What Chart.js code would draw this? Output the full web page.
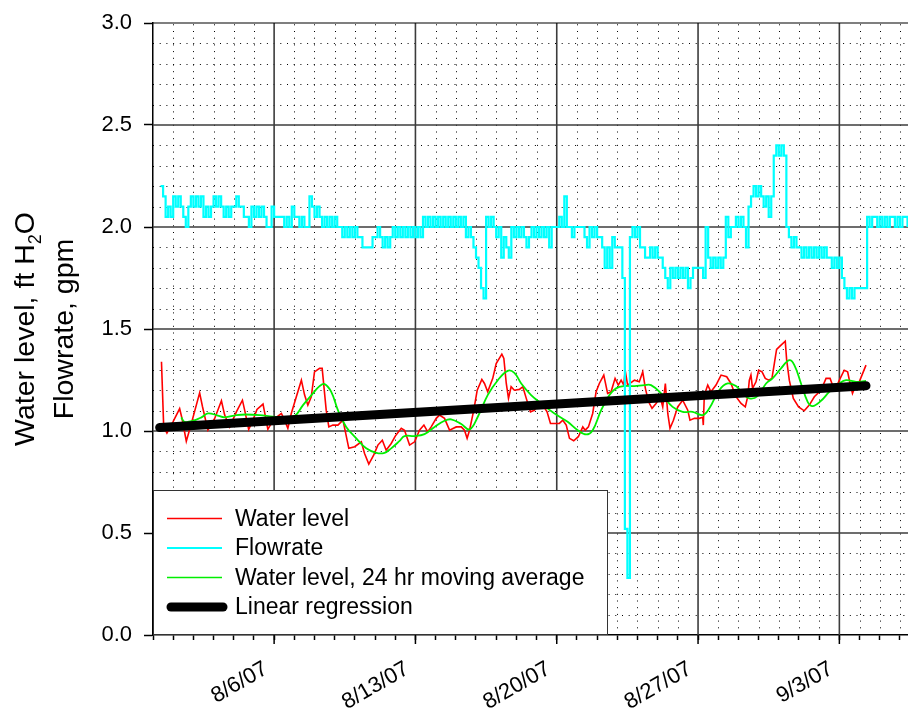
<!DOCTYPE html>
<html>
<head>
<meta charset="utf-8">
<script src="https://cdn.jsdelivr.net/npm/chart.js@4.4.0/dist/chart.umd.min.js"></script>
<style>
html,body{margin:0;padding:0;background:#fff;}
#wrap{width:908px;height:711px;position:relative;}
</style>
</head>
<body>
<div id="wrap"><canvas id="c" width="908" height="711"></canvas></div>
<script>
// x values are days since 7/31/07 00:00
const tickDays   = [6, 13, 20, 27, 34];
const tickLabels = ['8/6/07', '8/13/07', '8/20/07', '8/27/07', '9/3/07'];

const waterDays = [0.42,0.53,0.69,0.99,1.32,1.44,1.65,1.90,2.31,2.45,2.72,3.05,3.39,3.55,3.80,4.13,4.43,4.54,4.74,4.95,
  5.15,5.45,5.69,5.86,6.19,6.36,6.52,6.68,6.85,7.10,7.35,7.51,7.67,7.84,8.00,8.25,8.38,8.58,8.71,8.91,
  9.16,9.41,9.70,9.99,10.32,10.48,10.69,10.93,11.14,11.36,11.55,11.80,12.00,12.30,12.46,12.71,12.96,13.20,13.42,13.61,
  13.78,14.03,14.19,14.44,14.69,15.02,15.27,15.43,15.56,15.68,15.89,16.06,16.29,16.42,16.58,16.83,17.00,17.28,17.38,17.50,
  17.61,17.74,17.90,18.15,18.32,18.49,18.70,18.90,19.09,19.31,19.52,19.69,19.89,20.13,20.30,20.47,20.63,20.84,21.07,21.29,
  21.41,21.57,21.78,21.95,22.11,22.33,22.52,22.69,22.89,23.05,23.19,23.32,23.39,23.51,23.85,24.09,24.26,24.39,24.55,24.72,
  24.92,25.12,25.25,25.38,25.50,25.61,25.78,25.99,26.24,26.49,26.60,26.82,27.06,27.23,27.26,27.31,27.48,27.64,27.89,28.14,
  28.42,28.63,28.88,29.13,29.34,29.46,29.54,29.62,29.70,29.87,30.00,30.17,30.33,30.50,30.66,30.78,30.89,31.11,31.32,31.39,
  31.52,31.72,31.98,32.26,32.51,32.76,33.09,33.34,33.54,33.66,33.83,34.00,34.24,34.41,34.53,34.65,34.78,34.95,35.12,35.32];
const waterLevel = [1.339,1.02,0.99,1.045,1.11,1.06,0.95,1.037,1.187,1.12,1.004,1.06,1.148,1.078,1.02,1.094,1.151,1.102,1.008,1.053,
  1.106,1.132,1.008,1.037,1.073,1.086,1.053,1.013,1.086,1.168,1.249,1.176,1.127,1.168,1.29,1.307,1.307,1.102,1.02,1.029,
  1.029,1.053,0.915,0.923,0.947,0.89,0.838,0.882,0.931,0.955,0.906,0.939,0.975,1.013,1.004,0.931,0.947,1.004,1.029,0.996,
  1.02,1.062,1.078,1.062,1.004,1.02,1.02,1.004,0.964,1.004,1.102,1.2,1.253,1.233,1.192,1.258,1.331,1.377,1.356,1.233,
  1.16,1.217,1.2,1.204,1.217,1.16,1.094,1.102,1.143,1.127,1.094,1.037,1.037,1.037,1.053,1.029,0.964,0.952,0.972,1.02,
  1.004,1.02,1.086,1.192,1.233,1.274,1.184,1.192,1.258,1.225,1.249,1.225,1.298,1.225,1.249,1.241,1.29,1.209,1.143,1.111,
  1.135,1.168,1.118,1.233,1.086,1.013,1.053,1.118,1.151,1.102,1.053,1.062,1.062,1.067,1.029,1.176,1.225,1.192,1.225,1.274,
  1.266,1.233,1.168,1.135,1.118,1.168,1.249,1.274,1.209,1.241,1.298,1.29,1.258,1.249,1.258,1.331,1.40,1.421,1.44,1.347,
  1.249,1.16,1.118,1.099,1.127,1.168,1.2,1.258,1.258,1.225,1.209,1.249,1.298,1.29,1.233,1.184,1.217,1.233,1.274,1.323];

const avgDays = [1.40,1.57,1.98,2.40,2.72,3.14,3.55,4.13,4.62,5.28,5.94,6.44,7.01,7.43,7.92,8.25,8.50,8.83,9.16,9.57,
  10.07,10.56,11.06,11.47,11.80,12.20,12.46,12.96,13.45,13.95,14.44,14.77,15.27,15.68,16.09,16.58,17.08,17.57,17.90,18.24,
  18.73,19.23,19.89,20.54,21.04,21.46,21.78,22.20,22.61,22.94,23.35,23.85,24.34,24.67,25.17,25.74,26.24,26.73,27.23,27.56,
  28.05,28.47,28.88,29.21,29.54,29.95,30.37,30.69,31.11,31.52,31.77,32.10,32.43,32.67,33.09,33.50,34.00,34.33,34.83,35.32];
const avgLevel = [1.067,1.045,1.05,1.067,1.086,1.078,1.067,1.078,1.081,1.078,1.07,1.067,1.073,1.127,1.184,1.22,1.23,1.192,1.102,1.02,
  0.964,0.915,0.893,0.893,0.915,0.95,0.975,0.975,0.985,1.02,1.05,1.057,1.034,1.008,1.07,1.176,1.249,1.295,1.285,1.233,
  1.176,1.135,1.086,1.045,1.004,0.983,1.004,1.102,1.176,1.209,1.22,1.22,1.225,1.225,1.184,1.118,1.094,1.094,1.078,1.111,
  1.2,1.233,1.22,1.184,1.16,1.171,1.233,1.258,1.307,1.347,1.323,1.233,1.143,1.122,1.148,1.192,1.233,1.249,1.241,1.246];

const regDays  = [0.33, 35.32];
const regLevel = [1.017, 1.222];

// flowrate, sampled every 3 h (0.125 day) starting at day 0.375
const flowStart = 0.375;
const flowStep  = 0.125;
const flowRate = [
  2.2,2.15,2.05,2.1,2.05,
  2.15,2.1,2.15,2.1,2.05,2.0,2.1,2.15,
  2.1,2.15,2.1,2.15,2.05,2.1,2.05,2.1,
  2.15,2.1,2.15,2.1,2.05,2.1,2.05,2.1,
  2.1,2.15,2.1,2.1,2.05,2.05,2.0,2.1,
  2.05,2.1,2.05,2.1,2.05,2.0,2.0,2.1,
  2.05,2.05,2.05,2.05,2.0,2.05,2.0,2.1,
  2.05,2.05,2.0,2.05,2.0,2.0,2.15,2.1,
  2.05,2.1,2.05,2.0,2.05,2.0,2.05,2.0,
  2.05,2.0,2.0,1.95,2.0,1.95,2.0,1.95,
  2.0,1.95,1.95,1.9,1.9,1.9,1.9,1.95,
  1.95,2.0,1.95,1.9,1.95,1.9,1.95,2.0,
  1.95,2.0,1.95,2.0,1.95,2.0,1.95,2.0,
  1.95,2.0,1.95,2.05,2.0,2.05,2.0,2.05,
  2.0,2.05,2.0,2.05,2.0,2.05,2.0,2.05,
  2.0,2.05,2.0,2.05,1.95,2.0,1.95,1.9,
  1.85,1.8,1.7,1.65,2.05,2.0,2.05,2.0,
  1.95,2.0,1.85,1.95,1.9,1.85,2.0,1.95,
  2.0,1.95,2.0,1.95,1.9,1.95,2.0,1.95,
  2.0,1.95,2.0,1.95,2.0,1.9,2.0,2.0,
  2.0,2.05,2.0,2.15,2.0,2.0,1.95,2.0,
  2.0,2.0,2.0,1.95,1.9,2.0,1.95,2.0,
  1.95,1.95,1.9,1.8,1.9,1.8,1.95,1.9,
  1.9,1.9,1.75,0.52,0.28,1.95,2.0,1.95,
  2.0,1.9,1.9,1.85,1.85,1.9,1.85,1.9,
  1.85,1.85,1.8,1.75,1.7,1.8,1.75,1.8,
  1.75,1.8,1.75,1.8,1.7,1.75,1.8,1.8,
  1.8,1.8,1.75,2.0,1.85,1.8,1.85,1.8,
  1.85,1.8,1.85,2.05,1.95,2.0,2.0,2.05,
  2.0,2.05,2.0,1.9,2.1,2.15,2.2,2.15,
  2.2,2.15,2.1,2.15,2.05,2.15,2.35,2.4,
  2.35,2.4,2.35,2.0,1.95,1.9,1.95,1.9,
  1.9,1.85,1.9,1.85,1.9,1.85,1.9,1.85,
  1.9,1.85,1.9,1.85,1.85,1.8,1.85,1.8,
  1.85,1.75,1.7,1.65,1.7,1.65,1.7,1.7,
  1.7,1.7,1.7,2.05,2.0,2.05,2.05,2.0,
  2.05,2.0,2.05,2.0,2.05,2.05,2.0,2.05,
  2.0,2.05,2.05,2.0];

const FONT = "'Liberation Sans', Arial, Helvetica, sans-serif";

function pairs(xs, ys) { return xs.map((x, i) => ({x: x, y: ys[i]})); }
const flowPoints = flowRate.map((v, i) => ({x: flowStart + i * flowStep, y: v}));

const gridPlugin = {
  id: 'customGrid',
  beforeDatasetsDraw(chart) {
    const {ctx, chartArea: a, scales: {x, y}} = chart;
    ctx.save();
    ctx.beginPath();
    ctx.rect(a.left, a.top, a.right - a.left, a.bottom - a.top);
    ctx.clip();
    ctx.strokeStyle = '#000';
    ctx.lineWidth = 1;
    ctx.setLineDash([1, 5.7]);
    for (let d = Math.ceil(x.min) + 1; d <= x.max; d++) {
      if (tickDays.includes(d)) continue;
      const px = Math.round(x.getPixelForValue(d)) + 0.5;
      ctx.beginPath(); ctx.moveTo(px, a.bottom); ctx.lineTo(px, a.top); ctx.stroke();
    }
    for (let k = 1; k < 30; k++) {
      if (k % 5 === 0) continue;
      const py = Math.round(y.getPixelForValue(k / 10)) + 0.5;
      ctx.beginPath(); ctx.moveTo(a.left, py); ctx.lineTo(a.right, py); ctx.stroke();
    }
    ctx.setLineDash([]);
    ctx.strokeStyle = '#3c3c3c';
    ctx.lineWidth = 1.6;
    tickDays.forEach(d => {
      const px = x.getPixelForValue(d);
      ctx.beginPath(); ctx.moveTo(px, a.bottom); ctx.lineTo(px, a.top); ctx.stroke();
    });
    for (let k = 1; k < 6; k++) {
      const py = y.getPixelForValue(k / 2);
      ctx.beginPath(); ctx.moveTo(a.left, py); ctx.lineTo(a.right, py); ctx.stroke();
    }
    ctx.restore();
    ctx.save();
    ctx.strokeStyle = '#000';
    ctx.lineWidth = 1.2;
    ctx.beginPath(); ctx.moveTo(a.left, a.top); ctx.lineTo(a.right, a.top); ctx.stroke();
    ctx.restore();
  }
};

const legendPlugin = {
  id: 'boxLegend',
  afterDatasetsDraw(chart) {
    const {ctx, chartArea: a} = chart;
    const bx = a.left, bw = 455, bh = 145, by = a.bottom - bh;
    ctx.save();
    ctx.fillStyle = '#fff';
    ctx.fillRect(bx, by, bw, bh);
    ctx.strokeStyle = '#333';
    ctx.lineWidth = 1;
    ctx.strokeRect(bx + 0.5, by + 0.5, bw - 1, bh - 1);
    ctx.font = '23px ' + FONT;
    ctx.textBaseline = 'middle';
    ctx.textAlign = 'left';
    chart.data.datasets.forEach((ds, i) => {
      const yy = by + 28.5 + i * 29.5;
      ctx.strokeStyle = ds.borderColor;
      ctx.lineWidth = ds.legendWidth;
      ctx.lineCap = ds.borderCapStyle || 'butt';
      const x0 = ds.borderCapStyle === 'round' ? bx + 18 : bx + 14;
      const x1 = ds.borderCapStyle === 'round' ? bx + 70 : bx + 69;
      ctx.beginPath(); ctx.moveTo(x0, yy); ctx.lineTo(x1, yy); ctx.stroke();
      ctx.fillStyle = '#000';
      ctx.fillText(ds.label, bx + 82, yy + 1);
    });
    ctx.restore();
  }
};

const decoPlugin = {
  id: 'deco',
  afterDraw(chart) {
    const {ctx, chartArea: a, scales: {x}} = chart;
    ctx.save();
    ctx.strokeStyle = '#000';
    ctx.lineWidth = 1.5;
    tickDays.forEach(d => {
      const px = x.getPixelForValue(d);
      ctx.beginPath(); ctx.moveTo(px, a.bottom); ctx.lineTo(px, a.bottom + 9); ctx.stroke();
    });
    const cy = (a.top + a.bottom) / 2;
    ctx.fillStyle = '#000';
    ctx.textBaseline = 'alphabetic';
    const big = '28.5px ' + FONT, small = '18px ' + FONT;
    ctx.font = big;
    const p1 = 'Water level, ft H', p3 = 'O';
    const w1 = ctx.measureText(p1).width, w3 = ctx.measureText(p3).width;
    ctx.font = small;
    const w2 = ctx.measureText('2').width;
    const total = w1 + w2 + w3;
    ctx.translate(34, cy);
    ctx.rotate(-Math.PI / 2);
    let sx = -total / 2;
    ctx.font = big; ctx.fillText(p1, sx, 0); sx += w1;
    ctx.font = small; ctx.fillText('2', sx, 7); sx += w2;
    ctx.font = big; ctx.fillText(p3, sx, 0);
    ctx.textAlign = 'center';
    ctx.fillText('Flowrate, gpm', 0, 39);
    ctx.restore();
  }
};

new Chart(document.getElementById('c'), {
  type: 'line',
  data: {
    datasets: [
      {label: 'Water level', data: pairs(waterDays, waterLevel), borderColor: '#ff0000', borderWidth: 1.6,
       legendWidth: 1.6, pointRadius: 0, tension: 0, order: 3},
      {label: 'Flowrate', data: flowPoints, borderColor: '#00ffff', borderWidth: 2.2, legendWidth: 1.8,
       pointRadius: 0, stepped: true, order: 1},
      {label: 'Water level, 24 hr moving average', data: pairs(avgDays, avgLevel), borderColor: '#00ee00',
       borderWidth: 1.8, legendWidth: 1.6, pointRadius: 0, tension: 0.4, order: 2},
      {label: 'Linear regression', data: pairs(regDays, regLevel), borderColor: '#000000', borderWidth: 9,
       legendWidth: 9, borderCapStyle: 'round', pointRadius: 0, order: 0}
    ]
  },
  options: {
    responsive: false,
    animation: false,
    events: [],
    layout: {padding: {top: 23, right: 0, left: 0, bottom: 0}},
    plugins: {legend: {display: false}, tooltip: {enabled: false}},
    scales: {
      x: {
        type: 'linear', min: 0, max: 37.4,
        afterFit: s => { s.height = 76; s.paddingRight = 0; s.paddingLeft = 0; },
        grid: {display: true, drawOnChartArea: false, drawTicks: true, tickLength: 5, tickColor: '#000', tickWidth: 1.5},
        border: {display: true, color: '#000', width: 1.5},
        ticks: {
          stepSize: 1, autoSkip: false, includeBounds: false, maxRotation: 30, minRotation: 30,
          labelOffset: -8, padding: 16, color: '#000', font: {family: FONT, size: 22},
          callback: v => { const i = tickDays.indexOf(Math.round(v)); return (i >= 0 && Math.abs(v - tickDays[i]) < 1e-6) ? tickLabels[i] : ''; }
        }
      },
      y: {
        type: 'linear', min: 0, max: 3,
        afterFit: s => { s.width = 153; s.paddingTop = 0; s.paddingBottom = 0; },
        grid: {display: true, drawOnChartArea: false, drawTicks: true, tickLength: 9, tickColor: '#000', tickWidth: 1.5},
        border: {display: true, color: '#000', width: 1.5},
        ticks: {stepSize: 0.5, padding: 12, color: '#000', font: {family: FONT, size: 22},
          callback: v => v.toFixed(1)}
      }
    }
  },
  plugins: [gridPlugin, legendPlugin, decoPlugin]
});
</script>
</body>
</html>
